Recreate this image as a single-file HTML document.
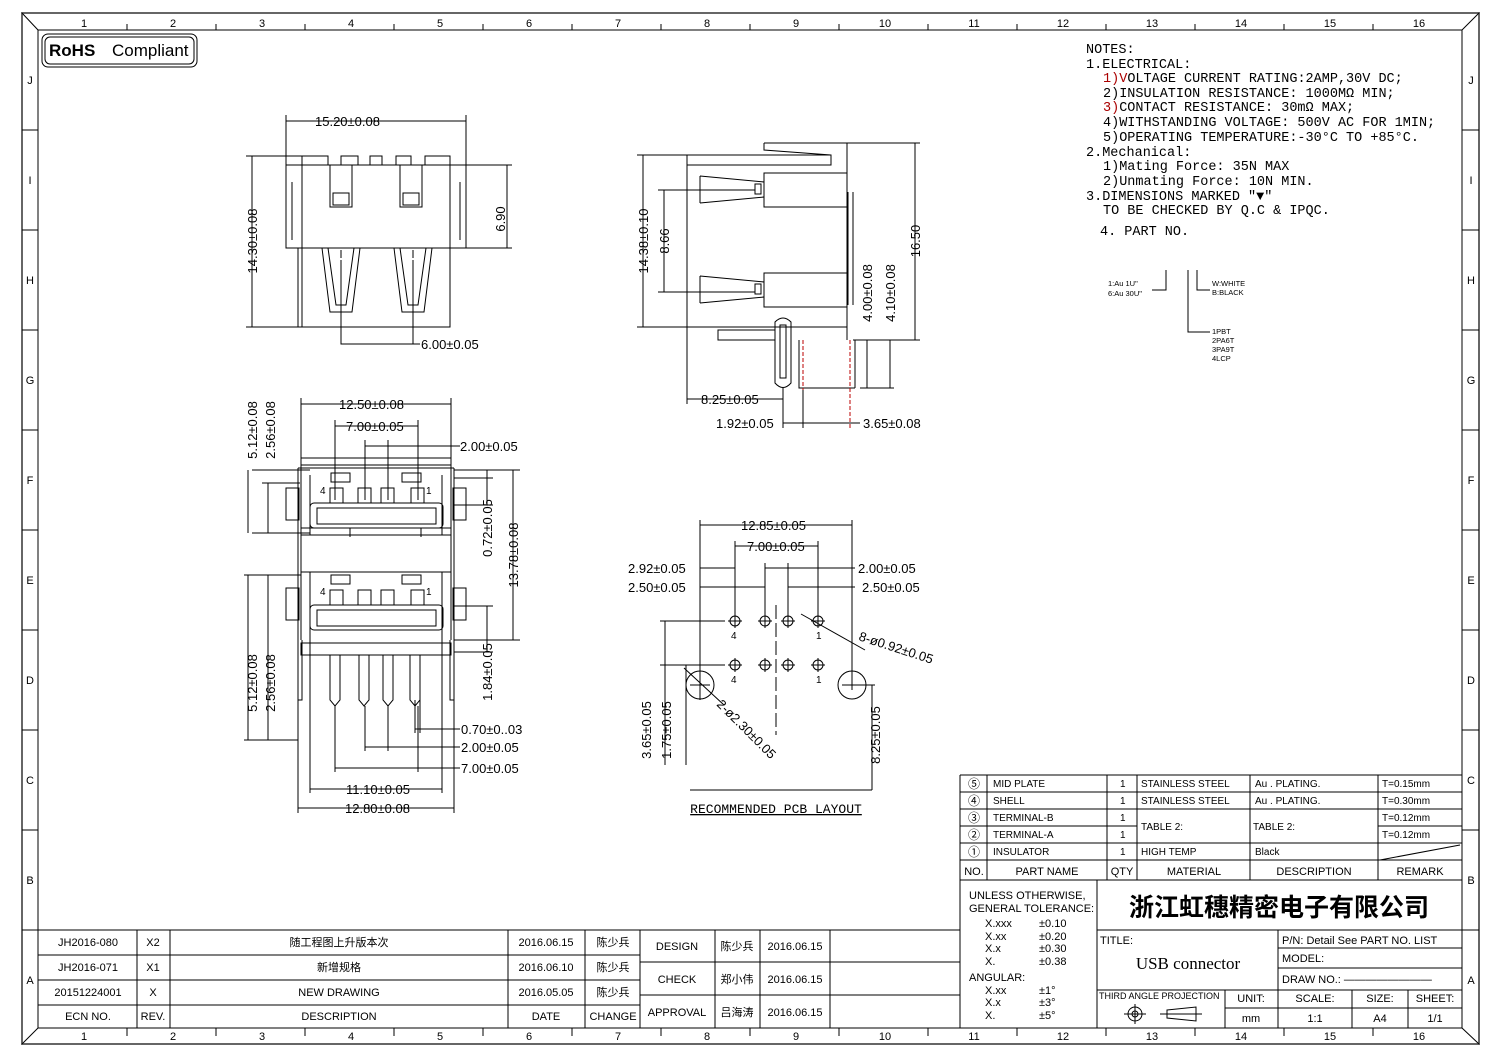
<!DOCTYPE html>
<html><head><meta charset="utf-8"><style>
html,body{margin:0;padding:0;background:#fff}
svg{display:block}
text{font-family:"Liberation Sans","Noto Sans CJK SC",sans-serif;fill:#000}
.m text,text.m{font-family:"Liberation Mono","Noto Sans CJK SC",monospace}
.t{font-size:11px}
.d{font-size:13px}
</style></head><body>
<svg width="1502" height="1059" viewBox="0 0 1502 1059" xmlns="http://www.w3.org/2000/svg">
<g fill="none" stroke="#000" stroke-width="1">
<rect x="22" y="13" width="1457" height="1031" stroke="#666" stroke-width="2"/>
<rect x="38" y="30" width="1424" height="998"/>
<line x1="22" y1="13" x2="38" y2="30"/><line x1="1479" y1="13" x2="1462" y2="30"/>
<line x1="22" y1="1044" x2="38" y2="1028"/><line x1="1479" y1="1044" x2="1462" y2="1028"/>
<path d="M127 24V30M216 24V30M305 24V30M394 24V30M483 24V30M572 24V30M661 24V30M750 24V30M839 24V30M928 24V30M1017 24V30M1106 24V30M1195 24V30M1284 24V30M1373 24V30"/>
<path d="M127 1028V1036M216 1028V1036M305 1028V1036M394 1028V1036M483 1028V1036M572 1028V1036M661 1028V1036M750 1028V1036M839 1028V1036M928 1028V1036M1017 1028V1036M1106 1028V1036M1195 1028V1036M1284 1028V1036M1373 1028V1036"/>
<path d="M22 130H38M22 230H38M22 330H38M22 430H38M22 530H38M22 630H38M22 730H38M22 830H38M22 930H38"/>
<path d="M1462 130H1479M1462 230H1479M1462 330H1479M1462 430H1479M1462 530H1479M1462 630H1479M1462 730H1479M1462 830H1479M1462 930H1479"/>
<rect x="42" y="34" width="155" height="33" rx="6"/>
<rect x="45" y="37" width="149" height="27" rx="5"/>
</g>
<g class="t" font-size="11" text-anchor="middle">
<text x="84" y="27">1</text><text x="173" y="27">2</text><text x="262" y="27">3</text><text x="351" y="27">4</text><text x="440" y="27">5</text><text x="529" y="27">6</text><text x="618" y="27">7</text><text x="707" y="27">8</text><text x="796" y="27">9</text><text x="885" y="27">10</text><text x="974" y="27">11</text><text x="1063" y="27">12</text><text x="1152" y="27">13</text><text x="1241" y="27">14</text><text x="1330" y="27">15</text><text x="1419" y="27">16</text>
<text x="84" y="1040">1</text><text x="173" y="1040">2</text><text x="262" y="1040">3</text><text x="351" y="1040">4</text><text x="440" y="1040">5</text><text x="529" y="1040">6</text><text x="618" y="1040">7</text><text x="707" y="1040">8</text><text x="796" y="1040">9</text><text x="885" y="1040">10</text><text x="974" y="1040">11</text><text x="1063" y="1040">12</text><text x="1152" y="1040">13</text><text x="1241" y="1040">14</text><text x="1330" y="1040">15</text><text x="1419" y="1040">16</text>
<text x="30" y="84">J</text><text x="30" y="184">I</text><text x="30" y="284">H</text><text x="30" y="384">G</text><text x="30" y="484">F</text><text x="30" y="584">E</text><text x="30" y="684">D</text><text x="30" y="784">C</text><text x="30" y="884">B</text><text x="30" y="984">A</text>
<text x="1471" y="84">J</text><text x="1471" y="184">I</text><text x="1471" y="284">H</text><text x="1471" y="384">G</text><text x="1471" y="484">F</text><text x="1471" y="584">E</text><text x="1471" y="684">D</text><text x="1471" y="784">C</text><text x="1471" y="884">B</text><text x="1471" y="984">A</text>
</g>
<text x="49" y="56" font-size="17" font-weight="bold">RoHS</text>
<text x="112" y="56" font-size="17">Compliant</text>

<g class="m" font-size="13.5">
<text x="1086" y="53" fill="#a00">NOTES:</text>
<text x="1086" y="68">1.ELECTRICAL:</text>
<text x="1103" y="82"><tspan fill="#a00">1)V</tspan>OLTAGE CURRENT RATING:2AMP,30V DC;</text>
<text x="1103" y="97">2)INSULATION RESISTANCE: 1000MΩ MIN;</text>
<text x="1103" y="111"><tspan fill="#a00">3)</tspan>CONTACT RESISTANCE: 30mΩ MAX;</text>
<text x="1103" y="126">4)WITHSTANDING VOLTAGE: 500V AC FOR 1MIN;</text>
<text x="1103" y="141">5)OPERATING TEMPERATURE:-30°C TO +85°C.</text>
<text x="1086" y="156">2.Mechanical:</text>
<text x="1103" y="170">1)Mating Force: 35N MAX</text>
<text x="1103" y="185">2)Unmating Force: 10N MIN.</text>
<text x="1086" y="200">3.DIMENSIONS MARKED "▼"</text>
<text x="1103" y="214">TO BE CHECKED BY Q.C &amp; IPQC.</text>
<text x="1100" y="235">4. PART NO.</text>
</g>
<g fill="none" stroke="#000"><path d="M1166 270V290H1152M1188 270V332H1210M1197 270V290H1210"/></g>
<g font-size="7.5"><text x="1108" y="286">1:Au 1U"</text><text x="1108" y="296">6:Au 30U"</text>
<text x="1212" y="286">W:WHITE</text><text x="1212" y="295">B:BLACK</text>
<text x="1212" y="334">1PBT</text><text x="1212" y="343">2PA6T</text><text x="1212" y="352">3PA9T</text><text x="1212" y="361">4LCP</text></g>

<g fill="none" stroke="#000">
<rect x="286" y="165" width="16" height="83"/><rect x="450" y="165" width="16" height="83"/>
<rect x="302" y="165" width="148" height="83"/>
<path d="M302 165V156H328V165M341 165V156H358V165M370 165V156H382V165M396 165V156H411V165M425 165V156H450V165"/>
<rect x="330" y="165" width="22" height="42"/><rect x="400" y="165" width="22" height="42"/>
<rect x="333" y="193" width="16" height="12"/><rect x="403" y="193" width="16" height="12"/>
<path d="M298 248V327H450V248M302 248V327"/>
<path d="M322 248L330 312H352L360 248M328 248L336 305H346L354 248"/>
<path d="M394 248L402 312H424L432 248M400 248L408 305H418L426 248"/>
<path d="M292 182V240M460 182V240"/>
<path d="M286 121H466M286 115V165M466 115V165M252 156V327M246 156H302M246 327H298M507 165V248M466 165H512M466 248H512M341 260V344H413M413 260V344H420" />
<path d="M341 250V330M413 250V330" stroke-dasharray="8 3 2 3"/>
</g>
<g class="d">
<text x="315" y="126">15.20±0.08</text>
<text x="505" y="219" transform="rotate(-90 505 219)" text-anchor="middle">6.90</text>
<text x="257" y="241" transform="rotate(-90 257 241)" text-anchor="middle">14.30±0.08</text>
<text x="421" y="349">6.00±0.05</text>
</g>

<g fill="none" stroke="#000">
<rect x="301" y="458" width="150" height="7"/>
<path d="M298 468H454M301 465V640M451 465V640M298 468V740M454 468V740"/>
<rect x="286" y="488" width="13" height="32"/><rect x="453" y="488" width="13" height="32"/>
<rect x="286" y="588" width="13" height="32"/><rect x="453" y="588" width="13" height="32"/>
<path d="M310 475V535M442 475V535M310 572V632M442 572V632"/>
<rect x="310" y="503" width="133" height="25" rx="4"/><rect x="317" y="508" width="119" height="16"/>
<rect x="310" y="605" width="133" height="25" rx="4"/><rect x="317" y="610" width="119" height="16"/>
<path d="M301 535H451M301 572H451M301 528H451"/>
<rect x="330" y="488" width="13" height="15"/><rect x="358" y="488" width="13" height="15"/><rect x="381" y="488" width="13" height="15"/><rect x="411" y="488" width="13" height="15"/>
<rect x="330" y="590" width="13" height="15"/><rect x="358" y="590" width="13" height="15"/><rect x="381" y="590" width="13" height="15"/><rect x="411" y="590" width="13" height="15"/>
<path d="M331 473H350V482H331ZM402 473H421V482H402ZM331 528H350V537M402 528H421V537M331 575H350V584H331ZM402 575H421V584H402Z"/>
<rect x="301" y="643" width="150" height="12"/>
<path d="M330 655V700L335 706L340 700V655M359 655V700L364 706L369 700V655M383 655V700L388 706L393 700V655M410 655V700L415 706L420 700V655"/>
<path d="M298 640V700H302V640M450 640V700H454V640"/>
<path d="M301 398V460M451 398V460M301 404H451M335 420V500M418 420V500M335 426H418M365 440V500M388 440V500M365 446H460"/>
<path d="M252 470H310M252 533H310M248 470V533M268 483V533M262 483H300M513 470V640M454 470H520M454 640H520M487 470V505M454 478H493M454 505H493"/>
<path d="M248 575V740M268 575V740M244 575H301M262 575H301M244 740H298M262 740H298M487 606V652M454 606H493M454 652H493"/>
<path d="M415 700V733M420 700V733M415 729H460M365 706V751M388 706V751M365 747H460M335 706V772M418 706V772M335 768H460"/>
<path d="M310 630V793M442 630V793M310 789H442M298 740V813M454 740V813M298 808H454"/>
</g>
<g class="d">
<text x="339" y="409">12.50±0.08</text>
<text x="346" y="431">7.00±0.05</text>
<text x="460" y="451">2.00±0.05</text>
<text x="257" y="430" transform="rotate(-90 257 430)" text-anchor="middle">5.12±0.08</text>
<text x="275" y="430" transform="rotate(-90 275 430)" text-anchor="middle">2.56±0.08</text>
<text x="492" y="528" transform="rotate(-90 492 528)" text-anchor="middle">0.72±0.05</text>
<text x="518" y="555" transform="rotate(-90 518 555)" text-anchor="middle">13.78±0.08</text>
<text x="492" y="672" transform="rotate(-90 492 672)" text-anchor="middle">1.84±0.05</text>
<text x="257" y="683" transform="rotate(-90 257 683)" text-anchor="middle">5.12±0.08</text>
<text x="275" y="683" transform="rotate(-90 275 683)" text-anchor="middle">2.56±0.08</text>
<text x="461" y="734">0.70±0..03</text>
<text x="461" y="752">2.00±0.05</text>
<text x="461" y="773">7.00±0.05</text>
<text x="346" y="794">11.10±0.05</text>
<text x="345" y="813">12.80±0.08</text>
</g>
<g font-size="10"><text x="320" y="494">4</text><text x="426" y="494">1</text><text x="320" y="595">4</text><text x="426" y="595">1</text></g>

<g fill="none" stroke="#000">
<path d="M687 155H831V165H687M687 155V327H847M764 143H847V340M764 143V150L831 155"/>
<rect x="764" y="173" width="83" height="34"/><rect x="764" y="273" width="83" height="34"/>
<path d="M700 176L764 182M700 203L764 197M700 176V203M700 276L764 282M700 303L764 297M700 276V303"/>
<rect x="755" y="184" width="6" height="10"/><rect x="755" y="284" width="6" height="10"/>
<path d="M718 330H775V340H718Z"/>
<path d="M775 322V383Q783 392 791 383V322Q783 314 775 322ZM780 325V378H786V325Z"/>
<path d="M848 192V305M853 192V305"/>
<path d="M799 340V388H855M855 340V388"/>
<path d="M643 155V327M637 155H687M637 327H687M664 190V292M658 190H755M658 292H755M915 143V340M847 143H920M853 340H920"/>
<path d="M867 340V388M890 340V388M860 388H894"/>
<path d="M687 327V404M687 399H783M783 388V428M803 388V428M783 423H860"/>
</g>
<path d="M803 340V390M850 340V428" stroke="#b00" stroke-dasharray="4 2" fill="none"/>
<g class="d">
<text x="648" y="241" transform="rotate(-90 648 241)" text-anchor="middle">14.38±0.10</text>
<text x="669" y="241" transform="rotate(-90 669 241)" text-anchor="middle">8.66</text>
<text x="920" y="241" transform="rotate(-90 920 241)" text-anchor="middle">16.50</text>
<text x="872" y="293" transform="rotate(-90 872 293)" text-anchor="middle" fill="#8a1010">4.00±0.08</text>
<text x="895" y="293" transform="rotate(-90 895 293)" text-anchor="middle" fill="#8a1010">4.10±0.08</text>
<text x="701" y="404">8.25±0.05</text>
<text x="716" y="428">1.92±0.05</text>
<text x="863" y="428">3.65±0.08</text>
</g>

<g fill="none" stroke="#000">
<g id="h"><circle cx="735" cy="621" r="5"/><path d="M728 621H742M735 614V628"/></g>
<use href="#h" x="30"/><use href="#h" x="53"/><use href="#h" x="83"/>
<use href="#h" y="44"/><use href="#h" x="30" y="44"/><use href="#h" x="53" y="44"/><use href="#h" x="83" y="44"/>
<circle cx="700" cy="685" r="14"/><circle cx="852" cy="685" r="14"/>
<path d="M700 520V700M852 520V690M700 525H852M735 541V621M818 541V621M735 546H818M765 563V621M788 563V621M700 568H735M765 568H855M700 587H765M788 587H855"/>
<path d="M776 605V735" stroke-dasharray="14 4"/>
<path d="M660 621H725M660 665H725M665 621V765M686 665V765M690 685H710M842 685H875M872 685V790M690 790H872"/>
<path d="M801 614L865 650M684 668L724 705"/>
</g>
<g class="d">
<text x="741" y="530">12.85±0.05</text>
<text x="747" y="551">7.00±0.05</text>
<text x="628" y="573">2.92±0.05</text>
<text x="628" y="592">2.50±0.05</text>
<text x="858" y="573">2.00±0.05</text>
<text x="862" y="592">2.50±0.05</text>
<text x="858" y="640" transform="rotate(18 858 640)">8-ø0.92±0.05</text>
<text x="716" y="705" transform="rotate(45 716 705)">2-ø2.30±0.05</text>
<text x="651" y="730" transform="rotate(-90 651 730)" text-anchor="middle">3.65±0.05</text>
<text x="671" y="730" transform="rotate(-90 671 730)" text-anchor="middle">1.75±0.05</text>
<text x="880" y="735" transform="rotate(-90 880 735)" text-anchor="middle">8.25±0.05</text>
<text x="776" y="813" text-anchor="middle" class="m" text-decoration="underline">RECOMMENDED PCB LAYOUT</text>
</g>
<g font-size="10"><text x="731" y="639">4</text><text x="816" y="639">1</text><text x="731" y="683">4</text><text x="816" y="683">1</text></g>

<g fill="none" stroke="#000">
<path d="M38 930H960M38 955H640M38 980H640M38 1005H640M640 962H960M640 995H960"/>
<path d="M137 930V1028M170 930V1028M508 930V1028M585 930V1028M640 930V1028M715 930V1028M760 930V1028M830 930V1028M960 775V1028"/>
</g>
<g font-size="11" text-anchor="middle">
<text x="88" y="946">JH2016-080</text><text x="153" y="946">X2</text><text x="339" y="946">随工程图上升版本次</text><text x="546" y="946">2016.06.15</text><text x="613" y="946">陈少兵</text>
<text x="88" y="971">JH2016-071</text><text x="153" y="971">X1</text><text x="339" y="971">新增规格</text><text x="546" y="971">2016.06.10</text><text x="613" y="971">陈少兵</text>
<text x="88" y="996">20151224001</text><text x="153" y="996">X</text><text x="339" y="996">NEW DRAWING</text><text x="546" y="996">2016.05.05</text><text x="613" y="996">陈少兵</text>
<text x="88" y="1020">ECN NO.</text><text x="153" y="1020">REV.</text><text x="339" y="1020">DESCRIPTION</text><text x="546" y="1020">DATE</text><text x="613" y="1020">CHANGE</text>
<text x="677" y="950">DESIGN</text><text x="737" y="950">陈少兵</text><text x="795" y="950">2016.06.15</text>
<text x="677" y="983">CHECK</text><text x="737" y="983">郑小伟</text><text x="795" y="983">2016.06.15</text>
<text x="677" y="1016">APPROVAL</text><text x="737" y="1016">吕海涛</text><text x="795" y="1016">2016.06.15</text>
</g>

<g fill="none" stroke="#000">
<path d="M960 775H1462M960 792H1462M960 809H1462M960 826H1137M1378 826H1462M960 843H1462M960 860H1462M960 880H1462"/>
<path d="M987 775V880M1107 775V880M1137 775V880M1250 775V880M1378 775V880M1380 860L1460 845"/>
<path d="M1097 880V1028M1097 930H1462M1278 930V1028M1278 948H1462M1278 968H1462M1097 990H1462M1225 990V1028M1225 1008H1462M1352 990V1028M1408 990V1028"/>
</g>
<g font-size="10">
<text x="993" y="787">MID PLATE</text><text x="1120" y="787">1</text><text x="1141" y="787">STAINLESS STEEL</text><text x="1255" y="787">Au . PLATING.</text><text x="1382" y="787">T=0.15mm</text>
<text x="993" y="804">SHELL</text><text x="1120" y="804">1</text><text x="1141" y="804">STAINLESS STEEL</text><text x="1255" y="804">Au . PLATING.</text><text x="1382" y="804">T=0.30mm</text>
<text x="993" y="821">TERMINAL-B</text><text x="1120" y="821">1</text><text x="1141" y="830">TABLE 2:</text><text x="1253" y="830">TABLE 2:</text><text x="1382" y="821">T=0.12mm</text>
<text x="993" y="838">TERMINAL-A</text><text x="1120" y="838">1</text><text x="1382" y="838">T=0.12mm</text>
<text x="993" y="855">INSULATOR</text><text x="1120" y="855">1</text><text x="1141" y="855">HIGH TEMP</text><text x="1255" y="855">Black</text>
</g>
<g font-size="12" text-anchor="middle">
<text x="974" y="788">⑤</text><text x="974" y="805">④</text><text x="974" y="822">③</text><text x="974" y="839">②</text><text x="974" y="856">①</text>
<text x="974" y="875" font-size="11">NO.</text><text x="1047" y="875" font-size="11">PART NAME</text><text x="1122" y="875" font-size="11">QTY</text><text x="1194" y="875" font-size="11">MATERIAL</text><text x="1314" y="875" font-size="11">DESCRIPTION</text><text x="1420" y="875" font-size="11">REMARK</text>
</g>
<g font-size="11">
<text x="969" y="899">UNLESS OTHERWISE,</text><text x="969" y="912">GENERAL TOLERANCE:</text>
<text x="985" y="927">X.xxx</text><text x="1039" y="927">±0.10</text>
<text x="985" y="940">X.xx</text><text x="1039" y="940">±0.20</text>
<text x="985" y="952">X.x</text><text x="1039" y="952">±0.30</text>
<text x="985" y="965">X.</text><text x="1039" y="965">±0.38</text>
<text x="969" y="981">ANGULAR:</text>
<text x="985" y="994">X.xx</text><text x="1039" y="994">±1°</text>
<text x="985" y="1006">X.x</text><text x="1039" y="1006">±3°</text>
<text x="985" y="1019">X.</text><text x="1039" y="1019">±5°</text>
</g>
<text x="1279" y="916" font-size="25" font-weight="bold" text-anchor="middle" style="font-family:'Noto Sans CJK SC',sans-serif">浙江虹穗精密电子有限公司</text>
<text x="1100" y="944" font-size="11">TITLE:</text>
<text x="1188" y="969" font-size="17" text-anchor="middle" style="font-family:'Liberation Serif',serif">USB connector</text>
<g font-size="11"><text x="1282" y="944">P/N: Detail See PART NO. LIST</text><text x="1282" y="962">MODEL:</text><text x="1282" y="983">DRAW NO.: ————————</text>
<text x="1099" y="999" font-size="9">THIRD ANGLE PROJECTION</text>
<text x="1251" y="1002" text-anchor="middle">UNIT:</text><text x="1251" y="1022" text-anchor="middle">mm</text>
<text x="1315" y="1002" text-anchor="middle">SCALE:</text><text x="1315" y="1022" text-anchor="middle">1:1</text>
<text x="1380" y="1002" text-anchor="middle">SIZE:</text><text x="1380" y="1022" text-anchor="middle">A4</text>
<text x="1435" y="1002" text-anchor="middle">SHEET:</text><text x="1435" y="1022" text-anchor="middle">1/1</text></g>
<g fill="none" stroke="#000"><circle cx="1135" cy="1014" r="7"/><circle cx="1135" cy="1014" r="3"/><path d="M1124 1014H1146M1135 1004V1024M1167 1010L1196 1007V1021L1167 1018ZM1160 1014H1202"/></g>
</svg>
</body></html>
